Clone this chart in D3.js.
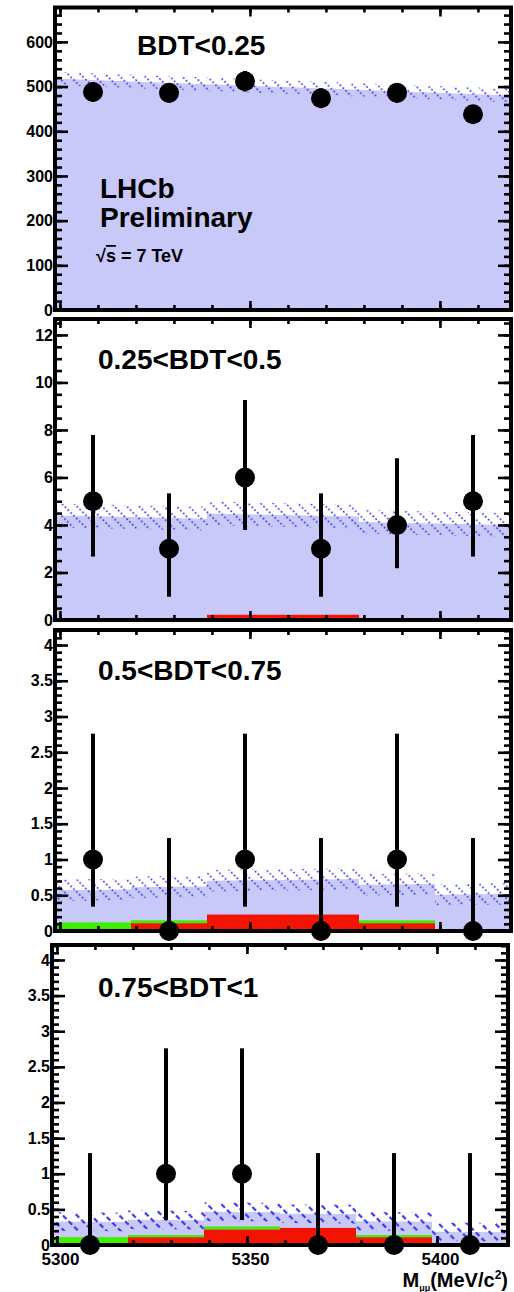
<!DOCTYPE html>
<html>
<head>
<meta charset="utf-8">
<script src="https://cdn.jsdelivr.net/npm/d3@7"></script>
<style>
  body { margin: 0; background: #fff; }
  text { font-family: "Liberation Sans", Arial, Helvetica, sans-serif; font-weight: bold; fill: #000; }
</style>
</head>
<body>
<svg id="chart" width="514" height="1292"></svg>
<script>
// ---- data ---------------------------------------------------------------
// Dimuon mass bins (MeV/c^2)
const massEdges   = [5298.7, 5318.7, 5338.7, 5358.7, 5378.7, 5398.7, 5418.7];
const massCenters = [5308.7, 5328.7, 5348.7, 5368.7, 5388.7, 5408.7];
const xTickLabels = [5300, 5350, 5400];

const bdtLabels = ["BDT<0.25", "0.25<BDT<0.5", "0.5<BDT<0.75", "0.75<BDT<1"];

// Observed candidates per bin and their error bar ends
const counts1 = [488, 486, 512, 474, 486, 438];
const errLo1  = [466, 464, 489, 452, 464, 417];
const errHi1  = [510, 508, 535, 496, 508, 459];

const counts2 = [5, 3, 6, 3, 4, 5];
const errLo2  = [2.67, 0.98, 3.79, 0.98, 2.18, 2.67];
const errHi2  = [7.79, 5.33, 9.26, 5.33, 6.81, 7.79];

const counts3 = [1, 0, 1, 0, 1, 0];
const errLo3  = [0.34, 0, 0.34, 0, 0.34, 0];
const errHi3  = [2.76, 1.30, 2.76, 1.30, 2.76, 1.30];

const counts4 = [0, 1, 1, 0, 0, 0];
const errLo4  = [0, 0.35, 0.35, 0, 0, 0];
const errHi4  = [1.29, 2.76, 2.76, 1.29, 1.29, 1.29];

// Peaking backgrounds per bin (red: misidentified B->hh, green: stacked on top)
const misid1 = [0, 0, 0, 0, 0, 0];
const other1 = [0, 0, 0, 0, 0, 0];
const misid2 = [0, 0, 0.22, 0.22, 0, 0];
const other2 = [0, 0, 0, 0, 0, 0];
const misid3 = [0, 0.11, 0.23, 0.23, 0.11, 0];
const other3 = [0.12, 0.04, 0, 0, 0.04, 0];
const misid4 = [0, 0.11, 0.22, 0.24, 0.11, 0];
const other4 = [0.11, 0.03, 0.04, 0, 0.03, 0];

// Combinatorial background expectation at the low / high mass ends, with its uncertainty
const combLow   = [518, 4.4, 0.45, 0.22];
const combHigh  = [480, 4.0, 0.52, 0.18];
const combError = [15, 0.5, 0.15, 0.13];

// Y axis ranges and ticks
const yMaxima    = [677, 12.67, 4.21, 4.21];
const yMajorStep = [100, 2, 0.5, 0.5];
const yMinorStep = [20, 0.5, 0.1, 0.1];

// ---- layout -------------------------------------------------------------
const layout = [
  { left: 55, right: 511, top: 7.5, bottom: 310 },
  { left: 55, right: 511, top: 319, bottom: 620 },
  { left: 55, right: 511, top: 630, bottom: 931 },
  { left: 52, right: 508, top: 945, bottom: 1245 }
];

const panels = [
  { counts: counts1, lo: errLo1, hi: errHi1, misid: misid1, other: other1 },
  { counts: counts2, lo: errLo2, hi: errHi2, misid: misid2, other: other2 },
  { counts: counts3, lo: errLo3, hi: errHi3, misid: misid3, other: other3 },
  { counts: counts4, lo: errLo4, hi: errHi4, misid: misid4, other: other4 }
];

const svg = d3.select("#chart");
const defs = svg.append("defs");

// Blue "\\" hatching for the background uncertainty band
function hatch(id, width, dash, spacing) {
  const p = defs.append("pattern")
    .attr("id", id)
    .attr("patternUnits", "userSpaceOnUse")
    .attr("width", 8).attr("height", spacing)
    .attr("patternTransform", "rotate(45)");
  p.append("line")
    .attr("x1", 0).attr("x2", 8)
    .attr("y1", spacing / 2).attr("y2", spacing / 2)
    .attr("stroke", "#3a3af0")
    .attr("stroke-width", width)
    .attr("stroke-dasharray", dash);
}
hatch("hatchThin", 1.3, "2 2", 8.8);
hatch("hatchThick", 2.2, "5 3", 10);

const fmt = [d3.format("d"), d3.format("d"), d3.format("~g"), d3.format("~g")];

panels.forEach((pd, k) => {
  const L = layout[k];
  const g = svg.append("g");
  const x = d3.scaleLinear().domain([massEdges[0], massEdges[massEdges.length - 1]]).range([L.left, L.right]);
  const y = d3.scaleLinear().domain([0, yMaxima[k]]).range([L.bottom, L.top]);

  const clipId = "clip" + k;
  defs.append("clipPath").attr("id", clipId)
    .append("rect").attr("x", L.left).attr("y", L.top)
    .attr("width", L.right - L.left).attr("height", L.bottom - L.top);

  // total expected background: linear combinatorial part plus the per-bin peaking part
  const m0 = massEdges[0], m1 = massEdges[massEdges.length - 1];
  const comb = m => combLow[k] + (combHigh[k] - combLow[k]) * (m - m0) / (m1 - m0);
  const expPts = [];
  for (let i = 0; i < massCenters.length; i++) {
    const peak = pd.misid[i] + pd.other[i];
    expPts.push({ m: massEdges[i], v: comb(massEdges[i]) + peak });
    expPts.push({ m: massEdges[i + 1], v: comb(massEdges[i + 1]) + peak });
  }

  const plot = g.append("g").attr("clip-path", `url(#${clipId})`);

  plot.append("path")
    .datum(expPts)
    .attr("fill", "#c8c8f9")
    .attr("d", d3.area().x(d => x(d.m)).y0(y(0)).y1(d => y(d.v)));

  plot.append("path")
    .datum(expPts)
    .attr("fill", k === 3 ? "url(#hatchThick)" : "url(#hatchThin)")
    .attr("d", d3.area().x(d => x(d.m))
      .y0(d => y(Math.max(0, d.v - combError[k])))
      .y1(d => y(d.v + combError[k])));

  // peaking background stack
  massCenters.forEach((c, i) => {
    const xa = x(massEdges[i]), xb = x(massEdges[i + 1]);
    if (pd.misid[i] > 0) {
      plot.append("rect").attr("x", xa).attr("width", xb - xa)
        .attr("y", y(pd.misid[i])).attr("height", y(0) - y(pd.misid[i]))
        .attr("fill", "#f21400");
    }
    if (pd.other[i] > 0) {
      const top = pd.misid[i] + pd.other[i];
      plot.append("rect").attr("x", xa).attr("width", xb - xa)
        .attr("y", y(top)).attr("height", y(pd.misid[i]) - y(top))
        .attr("fill", "#3cf000");
    }
  });

  // frame
  g.append("rect")
    .attr("x", L.left).attr("y", L.top)
    .attr("width", L.right - L.left).attr("height", L.bottom - L.top)
    .attr("fill", "none").attr("stroke", "#000").attr("stroke-width", 4);

  // inward ticks on all four sides
  const yMajors = d3.range(0, yMaxima[k] + 1e-9, yMajorStep[k]);
  const yMinors = d3.range(0, yMaxima[k] + 1e-9, yMinorStep[k]);
  const xMinors = d3.range(5300, m1, 10);

  const tickAxis = (axis, tr) => {
    const a = g.append("g").attr("transform", tr).call(axis);
    a.select(".domain").remove();
    a.selectAll("line").attr("stroke", "#000").attr("stroke-width", 2.6);
    a.selectAll("text").remove();
  };
  tickAxis(d3.axisRight(y).tickValues(yMinors).tickSize(7), `translate(${L.left},0)`);
  tickAxis(d3.axisRight(y).tickValues(yMajors).tickSize(13), `translate(${L.left},0)`);
  tickAxis(d3.axisLeft(y).tickValues(yMinors).tickSize(7), `translate(${L.right},0)`);
  tickAxis(d3.axisLeft(y).tickValues(yMajors).tickSize(13), `translate(${L.right},0)`);
  tickAxis(d3.axisBottom(x).tickValues(xMinors).tickSize(5), `translate(0,${L.top})`);
  tickAxis(d3.axisBottom(x).tickValues(xTickLabels).tickSize(9), `translate(0,${L.top})`);
  tickAxis(d3.axisTop(x).tickValues(xMinors).tickSize(5), `translate(0,${L.bottom})`);
  tickAxis(d3.axisTop(x).tickValues(xTickLabels).tickSize(9), `translate(0,${L.bottom})`);

  // y tick labels
  const yl = g.append("g").attr("transform", `translate(${L.left - 1},0)`)
    .call(d3.axisLeft(y).tickValues(yMajors).tickSize(0).tickPadding(1).tickFormat(fmt[k]));
  yl.select(".domain").remove();
  yl.selectAll("text")
    .style("font-family", '"Liberation Sans", Arial, sans-serif')
    .style("font-weight", "bold")
    .style("font-size", "16px")
    .attr("fill", "#000");

  // data points with error bars
  const pts = g.append("g");
  massCenters.forEach((c, i) => {
    pts.append("line")
      .attr("x1", x(c)).attr("x2", x(c))
      .attr("y1", y(pd.lo[i])).attr("y2", y(pd.hi[i]))
      .attr("stroke", "#000").attr("stroke-width", 4);
  });
  pts.selectAll("circle").data(pd.counts).join("circle")
    .attr("cx", (d, i) => x(massCenters[i]))
    .attr("cy", d => y(d))
    .attr("r", 10)
    .attr("fill", "#000");

  // selection label
  g.append("text")
    .attr("x", k === 0 ? 137 : 98)
    .attr("y", L.top + (k === 0 ? 47 : k === 3 ? 52 : 50))
    .style("font-size", "28px")
    .text(bdtLabels[k]);

  if (k === 3) {
    const xl = g.append("g").attr("transform", `translate(0,${L.bottom})`)
      .call(d3.axisBottom(x).tickValues(xTickLabels).tickSize(0).tickPadding(8).tickFormat(d3.format("d")));
    xl.select(".domain").remove();
    xl.selectAll("text")
      .attr("dx", 3)
      .style("font-family", '"Liberation Sans", Arial, sans-serif')
      .style("font-weight", "bold")
      .style("font-size", "17px")
      .attr("fill", "#000");
  }
});

// experiment tag in the top panel
svg.append("text").attr("x", 100).attr("y", 198).style("font-size", "28px").text("LHCb");
svg.append("text").attr("x", 100).attr("y", 227).style("font-size", "28px").text("Preliminary");
const energy = svg.append("text").attr("x", 96).attr("y", 262).style("font-size", "18px");
energy.append("tspan").text("√");
energy.append("tspan").style("text-decoration", "overline").text("s");
energy.append("tspan").text(" = 7 TeV");

// x axis title
const title = svg.append("text")
  .attr("x", 508).attr("y", 1287)
  .attr("text-anchor", "end")
  .style("font-size", "20px");
title.append("tspan").text("M");
title.append("tspan").attr("dy", 4).style("font-size", "9px").text("μμ");
title.append("tspan").attr("dy", -4).text("(MeV/c");
title.append("tspan").attr("dy", -8).style("font-size", "12px").text("2");
title.append("tspan").attr("dy", 8).text(")");
</script>
</body>
</html>
